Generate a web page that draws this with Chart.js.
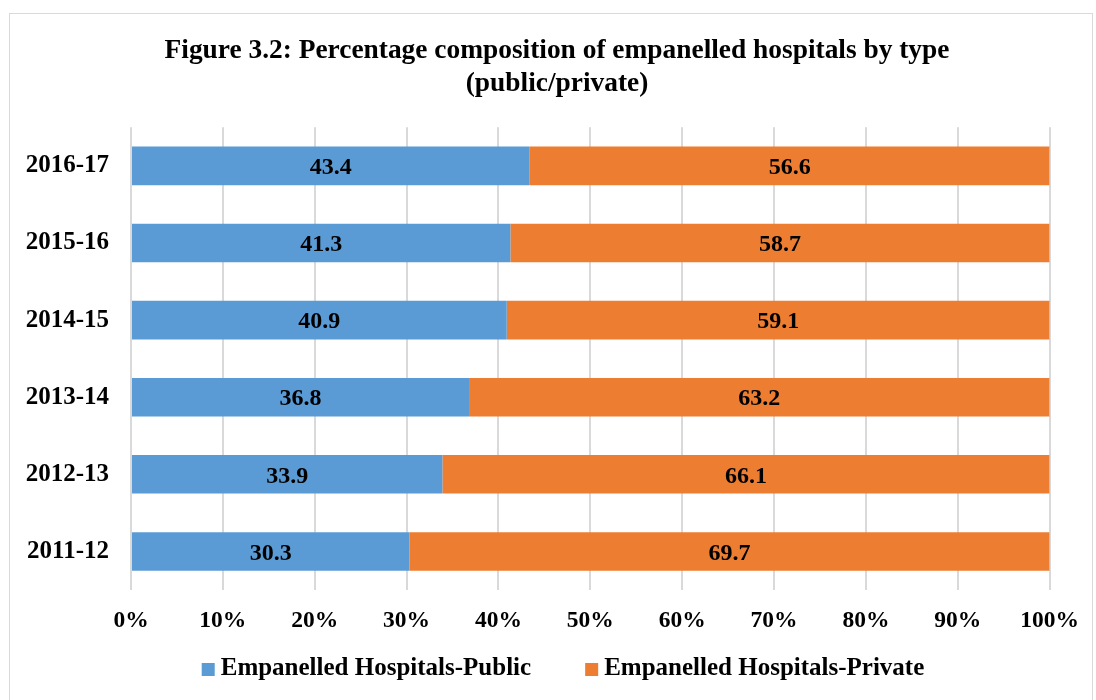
<!DOCTYPE html>
<html>
<head>
<meta charset="utf-8">
<script src="https://cdn.jsdelivr.net/npm/chart.js@4.4.1/dist/chart.umd.min.js"></script>
<style>
  html, body { margin: 0; padding: 0; background: #fff; }
  #frame { position: absolute; left: 9px; top: 13px; width: 1084px; height: 700px; border: 1px solid #d9d9d9; box-sizing: border-box; }
  #wrap { position: absolute; left: 0; top: 0; width: 1096px; height: 700px; }
</style>
</head>
<body>
<div id="frame"></div>
<div id="wrap"><canvas id="c" width="1096" height="700"></canvas></div>
<script>
const categories = ['2016-17', '2015-16', '2014-15', '2013-14', '2012-13', '2011-12'];
const publicShare = [43.4, 41.3, 40.9, 36.8, 33.9, 30.3];
const privateShare = [56.6, 58.7, 59.1, 63.2, 66.1, 69.7];
const xTickValues = [0, 10, 20, 30, 40, 50, 60, 70, 80, 90, 100];
const seriesNames = ['Empanelled Hospitals-Public', 'Empanelled Hospitals-Private'];
const seriesColors = ['#5B9BD5', '#ED7D31'];
const titleLines = ['Figure 3.2: Percentage composition of empanelled hospitals by type', '(public/private)'];

const FONT = "'Liberation Serif', 'Times New Roman', serif";

const labelPlugin = {
  id: 'barLabels',
  afterDatasetsDraw(chart) {
    const ctx = chart.ctx;
    ctx.save();
    ctx.font = 'bold 24px ' + FONT;
    ctx.fillStyle = '#000';
    ctx.textAlign = 'center';
    ctx.textBaseline = 'middle';
    chart.data.datasets.forEach((ds, di) => {
      const meta = chart.getDatasetMeta(di);
      meta.data.forEach((bar, i) => {
        const cx = (bar.x + bar.base) / 2;
        ctx.fillText(ds.data[i].toFixed(1), cx, bar.y + 2);
      });
    });
    ctx.restore();
  }
};

// Bottom legend drawn from the chart's own dataset labels/colours
const legendPlugin = {
  id: 'bottomLegend',
  afterDraw(chart) {
    const ctx = chart.ctx;
    const box = 13, gapText = 6, gapItem = 54, centerX = 563, centerY = 668;
    ctx.save();
    ctx.font = 'bold 25px ' + FONT;
    ctx.textBaseline = 'middle';
    ctx.textAlign = 'left';
    const items = chart.data.datasets.map(ds => ({ text: ds.label, color: ds.backgroundColor, w: ctx.measureText(ds.label).width }));
    let total = 0;
    items.forEach((it, i) => { total += box + gapText + it.w + (i < items.length - 1 ? gapItem : 0); });
    let x = centerX - total / 2;
    items.forEach(it => {
      ctx.fillStyle = it.color;
      ctx.fillRect(x, centerY - 5, box, box);
      ctx.fillStyle = '#000';
      ctx.fillText(it.text, x + box + gapText, centerY + 1);
      x += box + gapText + it.w + gapItem;
    });
    ctx.restore();
  }
};

new Chart(document.getElementById('c'), {
  type: 'bar',
  data: {
    labels: categories,
    datasets: [
      { label: seriesNames[0], data: publicShare, backgroundColor: seriesColors[0], borderWidth: 0 },
      { label: seriesNames[1], data: privateShare, backgroundColor: seriesColors[1], borderWidth: 0 }
    ]
  },
  options: {
    indexAxis: 'y',
    responsive: false,
    animation: false,
    layout: { padding: { left: 20, right: 2, top: 0, bottom: 50 } },
    datasets: { bar: { categoryPercentage: 1.0, barPercentage: 0.5 } },
    scales: {
      x: {
        stacked: true,
        min: 0, max: 100,
        afterBuildTicks(scale) { scale.ticks = xTickValues.map(v => ({ value: v })); },
        afterFit(scale) { scale.height = 60; },
        grid: { color: '#d9d9d9', lineWidth: 2, drawTicks: false },
        border: { display: false },
        ticks: {
          padding: 17,
          color: '#000',
          font: { family: FONT, size: 23.5, weight: 'bold' },
          callback: v => v + '%'
        }
      },
      y: {
        stacked: true,
        afterFit(scale) { scale.width = 111; },
        grid: { display: false, drawTicks: false },
        border: { display: false },
        ticks: {
          padding: 22,
          color: '#000',
          font: { family: FONT, size: 25, weight: 'bold' }
        }
      },
      yRight: {
        type: 'category',
        position: 'right',
        display: true,
        afterFit(scale) { scale.width = 44; },
        grid: { display: false, drawTicks: false },
        border: { display: false },
        ticks: { display: false }
      }
    },
    plugins: {
      title: {
        display: true,
        text: titleLines,
        color: '#000',
        font: { family: FONT, size: 27.4, weight: 'bold', lineHeight: 1.21 },
        padding: { top: 34, bottom: 27 }
      },
      legend: { display: false },
      tooltip: { enabled: false }
    }
  },
  plugins: [labelPlugin, legendPlugin]
});
</script>
</body>
</html>
